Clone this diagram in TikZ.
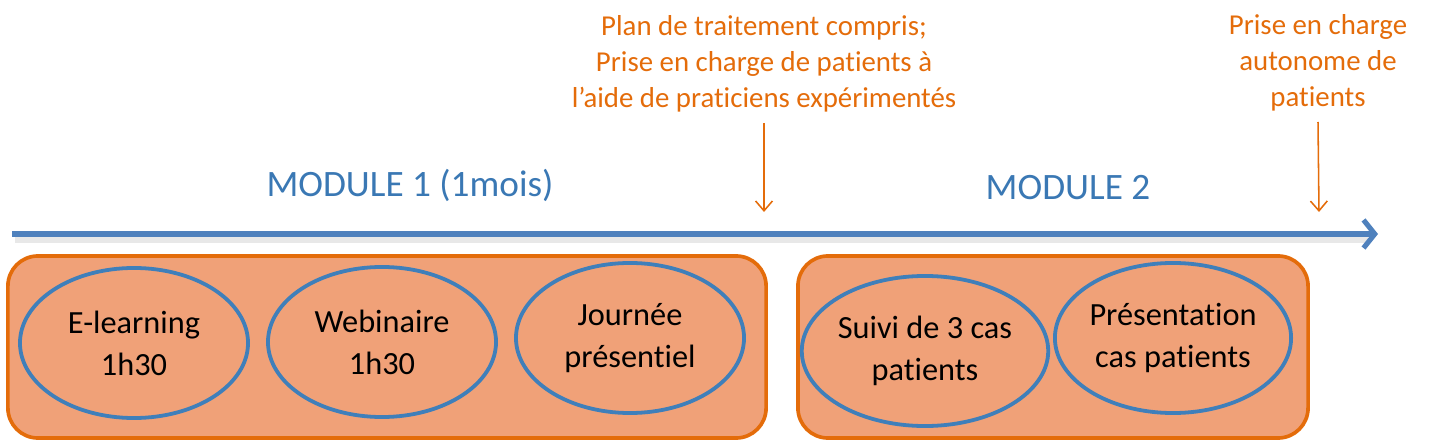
\documentclass[tikz,border=0pt]{standalone}
\usepackage{fontspec}
\setmainfont{Carlito}[RawFeature={-liga;-clig;-dlig;-calt;-rlig}]
\usetikzlibrary{shapes.geometric,arrows.meta}
\definecolor{boxfill}{RGB}{240,161,120}
\definecolor{boxline}{RGB}{228,108,10}
\definecolor{ovline}{RGB}{63,127,186}
\definecolor{axis}{RGB}{79,129,189}
\definecolor{modtext}{RGB}{58,120,180}
\definecolor{note}{RGB}{228,108,10}

\begin{document}
\begin{tikzpicture}[x=0.025cm, y=-0.025cm]
        \tikzstyle{every node} = [inner sep=0pt]
        \tikzstyle{box} = [draw=boxline, line width=2.6pt, fill=boxfill, rounded corners=0.75cm]
        \tikzstyle{oval} = [ellipse, draw=ovline, line width=2.7pt, minimum width=5.7cm, minimum height=3.75cm, align=center, font=\fontsize{23}{29.9}\selectfont]
        \tikzstyle{note} = [text=note, align=center, font=\fontsize{20.5}{25.6}\selectfont]
        \tikzstyle{mod} = [text=modtext, font=\fontsize{26.5}{32}\selectfont]
        \useasboundingbox (0,0) rectangle (1455,440);
        % timeline
        \coordinate (a) at (12,234);
        \coordinate (b) at (1378,234);
        \draw[gray!18, line width=5pt] ([shift={(3,5)}]a) -- ([shift={(-10,5)}]b);
        \draw[axis, line width=3.6pt, -{Straight Barb[length=8pt, width=20pt]}] (a) -- (b);
        \node[mod] (n1) at (410,185) {MODULE 1 (1mois)};
        \node[mod] (n2) at (1068,188) {MODULE 2};
        % modules
        \node[box, minimum width=18.95cm, minimum height=4.55cm] (m1) at (387,347) {};
        \node[box, minimum width=12.75cm, minimum height=4.55cm] (m2) at (1053,347) {};
        \node[oval] (e1) at (134,343) {E-learning\\1h30};
        \node[oval] (e2) at (382,342) {Webinaire\\1h30};
        \node[oval] (e3) at (630,338) {Journée\\présentiel};
        \node[oval] (e4) at (925,351) {Suivi de 3 cas\\patients};
        \node[oval] (e5) at (1173,338) {Présentation\\cas patients};
        % milestones
        \node[note] (t1) at (764,64) {Plan de traitement compris;\\Prise en charge de patients à\\l’aide de praticiens expérimentés};
        \node[note] (t2) at (1318,63) {Prise en charge\\autonome de\\patients};
        \coordinate (p1) at (764,212);
        \coordinate (p2) at (1319,212);
        \foreach \from/\to in {t1/p1, t2/p2}
            \draw[draw=note, line width=1.1pt, -{Straight Barb[length=7pt, width=12pt]}] (\from) ++(0,59) -- (\to);
    \end{tikzpicture}
\end{document}
